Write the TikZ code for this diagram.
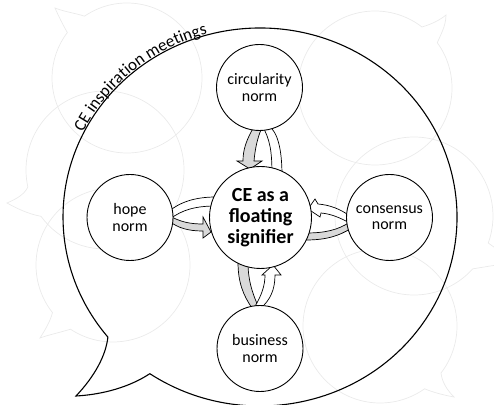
\documentclass[tikz,border=0pt]{standalone}
\usepackage{fontspec}
\setmainfont{Carlito}
\usetikzlibrary{decorations.text}
\definecolor{bgline}{HTML}{EAEAEA}
\definecolor{arrowgray}{HTML}{D9D9D9}
\begin{document}
\begin{tikzpicture}[x=1pt,y=1pt,
  bgbubble/.style={draw=bgline, line width=0.7pt},
  mainbubble/.style={draw=black, line width=1.1pt},
  normnode/.style={circle, draw=black, line width=0.9pt, fill=white, minimum size=86pt, inner sep=0pt, align=center, font=\fontsize{16}{16.5}\selectfont},
  centernode/.style={circle, draw=black, line width=0.9pt, fill=white, minimum size=102pt, inner sep=0pt, align=center, font=\bfseries\fontsize{20}{21}\selectfont},
  grayband/.style={draw=black, line width=0.7pt, fill=arrowgray, line join=miter},
  whiteband/.style={draw=black, line width=0.7pt, fill=white, line join=miter},
]
\useasboundingbox (0,0) rectangle (494,404);
\clip (0,0) rectangle (494,404);
\begin{scope}[shift={(0,404)}, yscale=-1]
  % background bubbles
  \draw[bgbubble] ([shift={(127,78)}]235.5:75) arc[start angle=235.5, end angle=577.3, radius=75] .. controls (63,25) and (58,15) .. (55,8) .. controls (65,12) and (75,13) .. cycle;
  \draw[bgbubble] ([shift={(375,88)}]-36:77) arc[start angle=-36, end angle=307.6, radius=77] .. controls (432,24) and (440,20) .. (446,15) .. controls (446,26) and (440,36) .. cycle;
  \draw[bgbubble] ([shift={(105,170)}]167.55:79) arc[start angle=167.55, end angle=504.1, radius=79] .. controls (28,214) and (16,208) .. (7,203) .. controls (16,199) and (24,195) .. cycle;
  \draw[bgbubble] ([shift={(414,216)}]42:79) arc[start angle=42, end angle=380, radius=79] -- (515,262) -- cycle;
  \draw[bgbubble] ([shift={(113,265)}]141.8:77) arc[start angle=141.8, end angle=483.5, radius=77] .. controls (58,333) and (48,335) .. (40,338) .. controls (45,330) and (50,322) .. cycle;
  \draw[bgbubble] ([shift={(380,326)}]54.6:77) arc[start angle=54.6, end angle=397.6, radius=77] .. controls (442,382) and (447,390) .. (454,397) .. controls (443,395) and (432,392) .. cycle;
  % main bubble
  \draw[mainbubble] ([shift={(260,217)}]124:197 and 189) coordinate (mbstart)
     arc[start angle=124, end angle=-219.45, x radius=197, y radius=189]
     .. controls (106,355) and (95,376) .. (76,396)
     .. controls (95,395) and (125,390) .. (mbstart) -- cycle;
  % arrows top
  \draw[whiteband] (262,125) .. controls (270,140) and (272,150) .. (272,176) -- (282,176) .. controls (282,150) and (278,132) .. (268,125) -- cycle;
  \draw[grayband] (255,125) .. controls (246,140) and (243,150) .. (243,161) -- (237,161) -- (250,169) -- (262,161) -- (254,161) .. controls (255,150) and (257,138) .. (263,125) -- cycle;
  % arrows left
  \draw[whiteband] (216,197) .. controls (195,197) and (180,202) .. (168,212) -- (170,219) .. controls (182,210) and (195,206) .. (216,206) -- cycle;
  \draw[grayband] (168,215) .. controls (180,222) and (190,224) .. (203,224) -- (203,217) -- (211,232) -- (203,238) -- (203,231) .. controls (188,231) and (178,228) .. (169,221) -- cycle;
  % arrows right
  \draw[whiteband] (350,216) .. controls (340,209) and (330,205) .. (318,204) -- (315,199) -- (308,209) -- (320,217) -- (321,213) .. controls (332,214) and (340,218) .. (350,223) -- cycle;
  \draw[grayband] (350,222) .. controls (338,230) and (325,233) .. (306,233) -- (306,240) .. controls (328,240) and (340,235) .. (350,229) -- cycle;
  % arrows bottom
  \draw[grayband] (238,262) .. controls (238,282) and (243,295) .. (252,308) -- (258,306) .. controls (252,292) and (248,280) .. (248,262) -- cycle;
  \draw[whiteband] (254,308) .. controls (262,295) and (265,285) .. (265,275) -- (262,275) -- (273,265) -- (281,275) -- (275,275) .. controls (275,290) and (270,300) .. (261,308) -- cycle;
  % nodes
  \node[normnode] (circ) at (259.5,87.5) {circularity\\norm};
  \node[normnode] (hope) at (130,217.5) {hope\\norm};
  \node[normnode] (cons) at (389.5,217.5) {consensus\\norm};
  \node[normnode] (busi) at (260,348.5) {business\\norm};
  \node[centernode] (ce) at (260.5,217.5) {CE as a\\floating\\signifier};
\end{scope}
\path[decorate, decoration={text along path, text align=left, raise=1pt,
   text={|\fontsize{17}{17}\selectfont|CE inspiration meetings}}]
   ([shift={(260,187)}]153.5:197 and 189) arc[start angle=153.5, end angle=95, x radius=197, y radius=189];
\end{tikzpicture}
\end{document}
